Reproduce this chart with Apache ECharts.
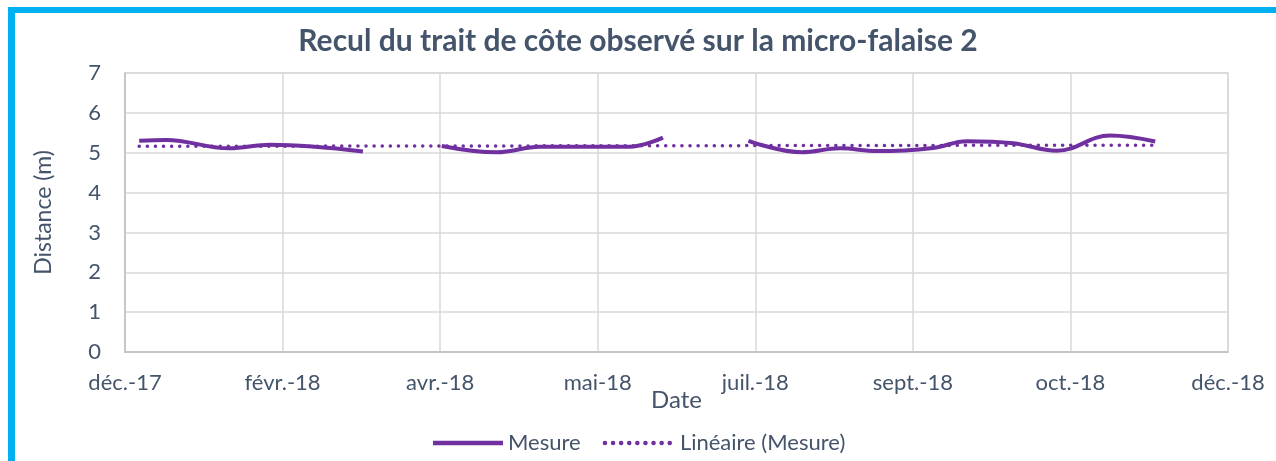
<!DOCTYPE html>
<html>
<head>
<meta charset="utf-8">
<script src="https://cdn.jsdelivr.net/npm/echarts@6/dist/echarts.min.js"></script>
<style>
    body { margin: 0; background: #fff; }
    .frame {
        position: absolute; left: 8px; top: 7px;
        width: 1400px; height: 600px;
        border-left: 7px solid #00b0f0;
        border-top: 6px solid #00b0f0;
    }
    .chart-box { position: absolute; left: 0; top: 0; width: 1276px; height: 461px; }
</style>
</head>
<body>
<div class="frame"></div>
<div class="chart-box"></div>
<script>
// x = jours depuis la fin déc. 2017, null = pas de mesure
let days    = [4.5, 13, 33, 46, 75.5, 88, 100.5, 118, 131.7, 160, 170.7, 185, 197.8, 214.8, 226.9, 238.6, 256.4, 267.1, 281.8, 295.7, 312.6, 326.9];
let mesure  = [5.30, 5.32, 5.11, 5.20, 5.03, null, 5.17, 5.01, 5.15, 5.15, 5.38, null, 5.30, 5.01, 5.11, 5.04, 5.12, 5.29, 5.24, 5.05, 5.43, 5.28];
let trendDays = [4.5, 326.9];
let trendValues = [5.16, 5.19];
let xTickLabels = ['déc.-17', 'févr.-18', 'avr.-18', 'mai-18', 'juil.-18', 'sept.-18', 'oct.-18', 'déc.-18'];

let textColor = '#44546a';
let chart = echarts.init(document.querySelector('.chart-box'));
let option = {
    textStyle: { fontFamily: 'Lato' },
    title: {
        text: 'Recul du trait de côte observé sur la micro-falaise 2',
        left: 'center',
        top: 21,
        textStyle: { fontSize: 30, fontWeight: 'bold', color: textColor, fontFamily: 'Lato' }
    },
    legend: {
        top: 427,
        left: 'center',
        itemWidth: 70,
        itemHeight: 14,
        itemGap: 22,
        itemStyle: { opacity: 0 },
        lineStyle: { width: 4.5 },
        textStyle: { fontSize: 22, color: textColor },
        data: ['Mesure', 'Linéaire (Mesure)']
    },
    grid: {
        left: 125, right: 48, top: 73, bottom: 109,
        show: true, borderColor: '#d9d9d9', borderWidth: 1.5
    },
    xAxis: {
        type: 'value',
        min: 0, max: 350, interval: 50,
        name: 'Date',
        nameLocation: 'middle',
        nameGap: 36,
        nameMoveOverlap: false,
        nameTextStyle: { fontSize: 24, color: textColor },
        axisLine: { show: true, lineStyle: { color: '#bfbfbf', width: 1.5 } },
        axisTick: { show: false },
        splitLine: { lineStyle: { color: '#d9d9d9', width: 1.5 } },
        axisLabel: {
            fontSize: 22, color: textColor, margin: 20,
            formatter: function (value) {
                return xTickLabels[Math.round(value / 50)];
            }
        }
    },
    yAxis: {
        type: 'value',
        min: 0, max: 7, interval: 1,
        name: 'Distance (m)',
        nameLocation: 'middle',
        nameGap: 70,
        nameMoveOverlap: false,
        nameTextStyle: { fontSize: 23, color: textColor },
        axisLine: { show: true, lineStyle: { color: '#bfbfbf', width: 1.5 } },
        axisTick: { show: false },
        splitLine: { lineStyle: { color: '#d9d9d9', width: 1.5 } },
        axisLabel: { fontSize: 22, color: textColor, margin: 24 }
    },
    series: [
        {
            name: 'Mesure',
            type: 'line',
            smooth: 0.4,
            symbol: 'none',
            connectNulls: false,
            lineStyle: { color: '#7030a0', width: 4 },
            itemStyle: { color: '#7030a0' },
            data: days.map(function (d, i) { return [d, mesure[i] === null ? '-' : mesure[i]]; })
        },
        {
            name: 'Linéaire (Mesure)',
            type: 'line',
            symbol: 'none',
            lineStyle: { color: '#7030a0', width: 3.5, type: [0.1, 8], cap: 'round' },
            itemStyle: { color: '#7030a0' },
            data: trendDays.map(function (d, i) { return [d, trendValues[i]]; })
        }
    ]
};
chart.setOption(option);
</script>
</body>
</html>
